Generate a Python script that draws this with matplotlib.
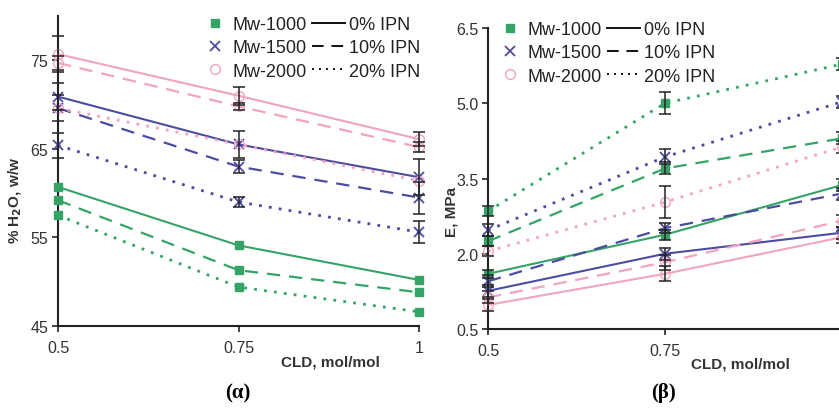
import matplotlib
matplotlib.use("Agg")
import matplotlib.pyplot as plt
from matplotlib.lines import Line2D

# data
cld = [0.5, 0.75, 1.0]

# (a) water uptake, % H2O w/w
h2o_1000 = {"0": [60.7, 54.1, 50.2], "10": [59.2, 51.3, 48.8], "20": [57.5, 49.4, 46.6]}
h2o_1500 = {"0": [70.9, 65.5, 61.8], "10": [69.6, 63.0, 59.5], "20": [65.4, 59.0, 55.6]}
h2o_2000 = {"0": [75.7, 71.0, 66.1], "10": [74.7, 69.8, 65.2], "20": [69.6, 65.5, 61.4]}
h2o_err_1500 = {"0": [1.5, 1.5, 2.0], "10": [1.5, 0.7, 1.8], "20": [1.4, 0.6, 1.2]}
h2o_err_2000 = {"0": [2.0, 1.0, 0.8], "10": [0.8, 0.4, 0.6], "20": None}

# (b) modulus E, MPa
e_1000 = {"0": [1.60, 2.38, 3.37], "10": [2.25, 3.70, 4.30], "20": [2.85, 5.00, 5.78]}
e_1500 = {"0": [1.26, 2.00, 2.42], "10": [1.45, 2.51, 3.20], "20": [2.47, 3.93, 5.03]}
e_2000 = {"0": [0.98, 1.60, 2.33], "10": [1.13, 1.83, 2.66], "20": [2.05, 3.03, 4.13]}
e_err_1000 = {"0": [0.08, 0.10, 0.12], "10": [0.10, 0.12, 0.12], "20": [0.10, 0.22, 0.12]}
e_err_1500 = {"0": [0.12, 0.12, 0.12], "10": [0.12, 0.10, 0.12], "20": [0.12, 0.15, 0.12]}
e_err_2000 = {"0": [0.12, 0.15, 0.12], "10": [0.12, 0.15, 0.12], "20": [0.10, 0.32, 0.12]}

mw_labels = ["Mw-1000", "Mw-1500", "Mw-2000"]
ipn_labels = ["0% IPN", "10% IPN", "20% IPN"]

GREEN = "#34a466"
PURPLE = "#4c4ca0"
PINK = "#f2a2c2"
styles = {"0": "-", "10": (0, (6, 4)), "20": (0, (1, 2.6))}
widths = {"0": 1.5, "10": 1.6, "20": 2.0}
mk = {GREEN: dict(marker="s", ms=5.5, mfc=GREEN, mec=GREEN),
      PURPLE: dict(marker="x", ms=6.5, mew=1.3, mec=PURPLE),
      PINK: dict(marker="o", ms=7, mfc="none", mec=PINK, mew=1.0)}

plt.rcParams["font.family"] = ["Liberation Sans", "DejaVu Sans"]

fig = plt.figure(figsize=(8.39, 4.10), dpi=100)
axa = fig.add_axes([58/839, 1-327/410, (419-58)/839, (327-17)/410])
axb = fig.add_axes([488/839, 1-330/410, (842-488)/839, (330-29)/410])


def draw(ax, sets, errs):
    for (col, d), err in zip(sets, errs):
        for k in ["0", "10", "20"]:
            ax.plot(cld, d[k], color=col, ls=styles[k], lw=widths[k],
                    clip_on=False, zorder=3, **mk[col])
            if err is not None and err[k] is not None:
                ax.errorbar(cld, d[k], yerr=err[k], fmt="none", ecolor="#222222",
                            elinewidth=1.1, capsize=4, capthick=1.1,
                            clip_on=False, zorder=4)


draw(axa, [(GREEN, h2o_1000), (PURPLE, h2o_1500), (PINK, h2o_2000)],
     [None, h2o_err_1500, h2o_err_2000])
draw(axb, [(GREEN, e_1000), (PURPLE, e_1500), (PINK, e_2000)],
     [e_err_1000, e_err_1500, e_err_2000])

axa.set_ylim(45, 80)
axa.set_yticks([45, 55, 65, 75])
axb.set_ylim(0.5, 6.5)
axb.set_yticks([0.5, 2.0, 3.5, 5.0, 6.5])
axb.set_yticklabels(["0.5", "2.0", "3.5", "5.0", "6.5"])

for ax in (axa, axb):
    ax.set_xlim(0.5, 1.0)
    ax.set_xticks([0.5, 0.75, 1.0])
    ax.set_xticklabels(["0.5", "0.75", "1"])
    ax.spines["top"].set_visible(False)
    ax.spines["right"].set_visible(False)
    for s in ("left", "bottom"):
        ax.spines[s].set_color("#222222")
        ax.spines[s].set_linewidth(1.5)
    ax.tick_params(axis="both", direction="out", length=4, width=1.2,
                   color="#222222", labelsize=11.5, labelcolor="#333333")
    ax.tick_params(axis="x", pad=6)
    ax.tick_params(axis="y", pad=3)
    ax.patch.set_alpha(0)

# legends, two columns built as two legends
def legends(ax, xm, xl, ytop):
    mh = [Line2D([], [], ls="none", **mk[c]) for c in (GREEN, PURPLE, PINK)]
    lh = [Line2D([], [], color="#111111", ls=styles[k], lw=1.4) for k in ("0", "10", "20")]
    common = dict(frameon=False, fontsize=13, loc="upper left", borderpad=0,
                  borderaxespad=0, labelspacing=0.35, labelcolor="#222222",
                  bbox_transform=fig.transFigure)
    l1 = ax.legend(mh, mw_labels, bbox_to_anchor=(xm/839, 1-ytop/410),
                   handlelength=0.8, handletextpad=0.55, **common)
    ax.add_artist(l1)
    ax.legend(lh, ipn_labels, bbox_to_anchor=(xl/839, 1-ytop/410),
              handlelength=1.85, handletextpad=0.2, **common)

legends(axa, 208, 312, 17)
legends(axb, 503, 607, 22)

fig.text(330/839, 1-363/410, "CLD, mol/mol", fontsize=11, fontweight="bold",
         color="#333333", ha="center", va="center")
fig.text(740/839, 1-365/410, "CLD, mol/mol", fontsize=11, fontweight="bold",
         color="#333333", ha="center", va="center")
fig.text(15/839, 1-200/410, r"% H$_\mathbf{2}$O, w/w", fontsize=11, fontweight="bold",
         color="#333333", ha="center", va="center", rotation=90)
fig.text(452/839, 1-212/410, "E, MPa", fontsize=11, fontweight="bold",
         color="#333333", ha="center", va="center", rotation=90)

fig.text(238/839, 1-393/410, "(α)", fontsize=15, fontweight="bold",
         family=["Liberation Serif", "DejaVu Serif"], ha="center", va="center")
fig.text(664/839, 1-393/410, "(β)", fontsize=15, fontweight="bold",
         family=["Liberation Serif", "DejaVu Serif"], ha="center", va="center")

fig.savefig("out.png", dpi=100)
